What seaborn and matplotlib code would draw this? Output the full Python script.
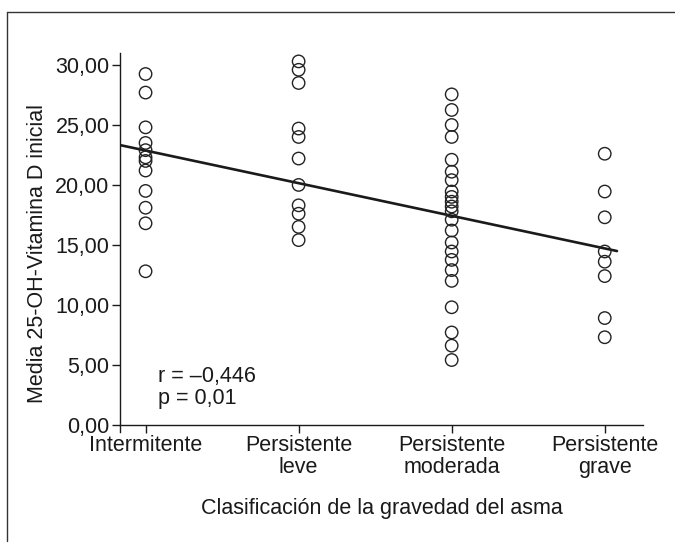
import numpy as np
import pandas as pd
import matplotlib
matplotlib.use("Agg")
import matplotlib.pyplot as plt
import seaborn as sns
from matplotlib.lines import Line2D
from matplotlib.ticker import FuncFormatter

sns.set_style("white")
plt.rcParams['font.family'] = ['Liberation Sans', 'DejaVu Sans']

categories = ["Intermitente", "Persistente\nleve", "Persistente\nmoderada", "Persistente\ngrave"]
intermitente = [29.25, 27.7, 24.8, 23.5, 22.9, 22.3, 22.0, 21.2, 19.5, 18.1, 16.8, 12.8]
persistente_leve = [30.3, 29.6, 28.5, 24.7, 24.0, 22.2, 20.0, 18.3, 17.6, 16.5, 15.4]
persistente_moderada = [27.55, 26.25, 25.0, 24.0, 22.1, 21.1, 20.4, 19.45, 19.0, 18.6, 18.2,
                        17.8, 17.1, 16.2, 15.2, 14.45, 13.75, 12.9, 12.0, 9.8, 7.7, 6.6, 5.4]
persistente_grave = [22.6, 19.45, 17.3, 14.45, 13.6, 12.4, 8.9, 7.3]
yticks = [0, 5, 10, 15, 20, 25, 30]
stats_text = "r = \u20130,446\np = 0,01"

groups = [intermitente, persistente_leve, persistente_moderada, persistente_grave]
df = pd.DataFrame({
    "grupo": np.concatenate([[i + 1] * len(g) for i, g in enumerate(groups)]),
    "vitd": np.concatenate(groups),
})

FS = 15.5
INK = "#1a1a1a"

fig = plt.figure(figsize=(6.75, 5.47), dpi=100)
ax = fig.add_axes([120/675, 1 - 432/547, (643-120)/675, (432-53)/547])

ax.set_ylim(-0.6, 31.0)
ax.set_xlim(0.833, 4.08)
sns.regplot(data=df, x="grupo", y="vitd", ax=ax, scatter=False, ci=None,
            truncate=False, line_kws=dict(color=INK, lw=1.9))
ax.set_xlim(0.833, 4.25)
sns.scatterplot(data=df, x="grupo", y="vitd", ax=ax, s=80, marker="o",
                facecolor="none", edgecolor="#222222", linewidth=1.0, zorder=3)

for s in ["top", "right"]:
    ax.spines[s].set_visible(False)
for s in ["left", "bottom"]:
    ax.spines[s].set_color(INK)
    ax.spines[s].set_linewidth(1.0)
ax.spines["bottom"].set_position(("data", 0))

ax.set_xticks([1, 2, 3, 4])
ax.set_xticklabels(categories, fontsize=FS, color=INK, linespacing=1.05)
ax.set_yticks(yticks)
ax.yaxis.set_major_formatter(FuncFormatter(lambda v, p: f"{v:.2f}".replace(".", ",")))
ax.tick_params(axis="both", direction="out", length=6, width=1.0, color=INK,
               labelsize=FS, labelcolor=INK, left=True, bottom=True, pad=1.5)

ax.set_xlabel("Clasificación de la gravedad del asma", fontsize=FS, color=INK)
ax.set_ylabel("Media 25-OH-Vitamina D inicial", fontsize=FS, color=INK)
ax.xaxis.set_label_coords(0.5, -0.175)
ax.yaxis.set_label_coords(-0.138, 0.47)

ax.text(1.08, 3.1, stats_text, fontsize=FS, color=INK, va="center", ha="left",
        linespacing=1.1)

# outer frame: only the left and top edges are visible in the reference
fig.add_artist(Line2D([7/675, 7/675], [1 - 541/547, 1 - 12/547], transform=fig.transFigure,
                      color="#333333", lw=1.0))
fig.add_artist(Line2D([7/675, 1.0], [1 - 12/547, 1 - 12/547], transform=fig.transFigure,
                      color="#333333", lw=1.0))

fig.savefig("out.png", dpi=100)
